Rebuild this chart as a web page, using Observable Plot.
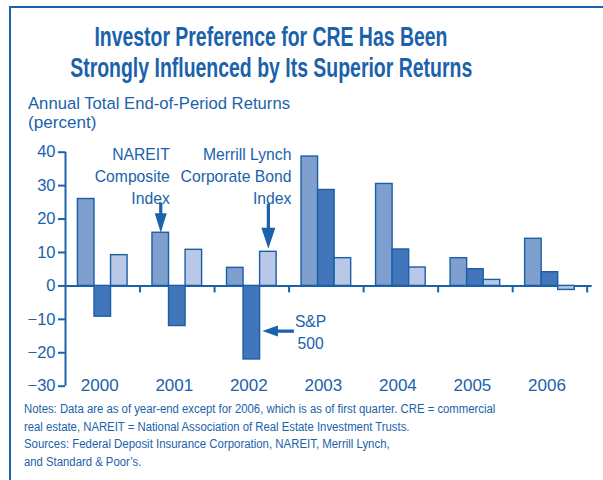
<!DOCTYPE html>
<html>
<head>
<meta charset="utf-8">
<script src="https://cdn.jsdelivr.net/npm/d3@7"></script>
<script src="https://cdn.jsdelivr.net/npm/@observablehq/plot@0.6"></script>
<style>
  html, body { margin: 0; padding: 0; background: #fff; }
  #wrap { position: relative; width: 603px; height: 480px; overflow: hidden; background: #fff; }
  .frame { position: absolute; left: 9px; top: 6px; right: -20px; bottom: -20px;
           border-top: 2.5px solid #1a62ab; border-left: 2.5px solid #1a62ab; }
  .txt { position: absolute; white-space: nowrap; line-height: 1; color: #1a62ab; }
  #chart { position: absolute; left: 0; top: 136px; }
</style>
</head>
<body>
<div id="wrap">
  <div class="frame"></div>
  <div id="chart"></div>
</div>
<script>
// ---------------- data ----------------
const years = ["2000", "2001", "2002", "2003", "2004", "2005", "2006"];
const seriesNames = ["NAREIT Composite Index", "S&P 500", "Merrill Lynch Corporate Bond Index"];
const nareit  = [26.0, 15.9, 5.4, 38.7, 30.5, 8.3, 14.1];
const snp500  = [-9.2, -12.0, -22.0, 28.7, 10.9, 5.0, 4.1];
const merrill = [9.2, 10.8, 10.2, 8.3, 5.5, 1.8, -1.2];
const yTicks = [-30, -20, -10, 0, 10, 20, 30, 40];

const titleLines = ["Investor Preference for CRE Has Been", "Strongly Influenced by Its Superior Returns"];
const yLabelLines = ["Annual Total End-of-Period Returns", "(percent)"];
const noteLines = [
  "Notes: Data are as of year-end except for 2006, which is as of first quarter. CRE = commercial",
  "real estate, NAREIT = National Association of Real Estate Investment Trusts.",
  "Sources: Federal Deposit Insurance Corporation, NAREIT, Merrill Lynch,",
  "and Standard & Poor\u2019s."
];
const annoNareit = "NAREIT\nComposite\nIndex";
const annoMerrill = "Merrill Lynch\nCorporate Bond\nIndex";
const annoSnp = "S&P\n500";
const snpArrowLevel = -13.5;

// ---------------- style ----------------
const BLUE = "#1a62ab";
const EDGE = "#1b5ea8";
const FILLS = ["#7f9fcf", "#4177ba", "#b8c8e6"];
const NARROW = "'Liberation Sans Narrow', 'Arial Narrow', 'Liberation Sans', sans-serif";
const SANS = "'Liberation Sans', Arial, sans-serif";

// ---------------- html text ----------------
const wrap = document.getElementById("wrap");
function addText(str, {x, baseline, size, family, weight = "normal", width, anchor = "start"}) {
  const el = document.createElement("div");
  el.className = "txt";
  el.textContent = str;
  el.style.fontFamily = family;
  el.style.fontSize = size + "px";
  el.style.fontWeight = weight;
  el.style.top = (baseline - 0.8465 * size) + "px";
  wrap.appendChild(el);
  const w = el.getBoundingClientRect().width;
  const s = width ? width / w : 1;
  if (anchor === "middle") {
    el.style.left = (x - w / 2) + "px";
    el.style.transformOrigin = "50% 50%";
  } else {
    el.style.left = x + "px";
    el.style.transformOrigin = "0 50%";
  }
  el.style.transform = `scaleX(${s})`;
  return el;
}
addText(titleLines[0], {x: 270.5, baseline: 46.7, size: 27.5, family: NARROW, weight: "bold", width: 353, anchor: "middle"});
addText(titleLines[1], {x: 271, baseline: 77.3, size: 27.5, family: NARROW, weight: "bold", width: 402, anchor: "middle"});
addText(yLabelLines[0], {x: 28.3, baseline: 110.3, size: 16.8, family: SANS, width: 262});
addText(yLabelLines[1], {x: 28.3, baseline: 128.8, size: 16.8, family: SANS, width: 68.4});
const noteWidths = [471.3, 385.5, 365.7, 117.3];
const noteBase = [413.3, 430.8, 448.6, 466.0];
noteLines.forEach((t, k) => addText(t, {x: 24.3, baseline: noteBase[k], size: 12, family: NARROW, width: noteWidths[k]}));

// ---------------- chart ----------------
const values = [nareit, snp500, merrill];
const rows = years.flatMap((yr, i) => seriesNames.map((s, j) => ({year: yr, i, j, series: s, value: values[j][i]})));
const groupStart = 0.167;   // offset of first bar inside each year slot (in slot units)
const barW = 0.222;         // bar width (in slot units)
const barX1 = (i, j) => i + groupStart + j * barW;
const barCenter = (i, j) => barX1(i, j) + barW / 2;

function arrowSymbol(total, headLen, headW, shaftW) {
  return {
    draw(ctx) {
      const hw = headW / 2, sw = shaftW / 2;
      ctx.moveTo(0, 0);
      ctx.lineTo(-hw, -headLen);
      ctx.lineTo(-sw, -headLen);
      ctx.lineTo(-sw, -total);
      ctx.lineTo(sw, -total);
      ctx.lineTo(sw, -headLen);
      ctx.lineTo(hw, -headLen);
      ctx.closePath();
    }
  };
}

const iN = years.indexOf("2001");
const iM = years.indexOf("2002");
const iS = years.indexOf("2002");

const chart = Plot.plot({
  width: 603,
  height: 264,
  marginLeft: 65,
  marginRight: 16.3,
  marginTop: 15.7,
  marginBottom: 14.3,
  style: {fontFamily: NARROW, fontSize: "16.5px", color: BLUE, background: "transparent", overflow: "visible"},
  x: {domain: [0, years.length], axis: null},
  y: {domain: [-30, 40], axis: null},
  color: {domain: seriesNames, range: FILLS},
  marks: [
    Plot.ruleY([0], {stroke: BLUE, strokeWidth: 2, insetRight: -5}),
    Plot.rect(rows, {
      x1: d => barX1(d.i, d.j),
      x2: d => barX1(d.i, d.j) + barW,
      y1: 0,
      y2: "value",
      fill: "series",
      stroke: EDGE,
      strokeWidth: 1.4
    }),
    Plot.ruleX(years.map((_, i) => i + 1), {y1: 0, y2: 0, insetBottom: -7, stroke: BLUE, strokeWidth: 2}),
    Plot.ruleX([0], {stroke: BLUE, strokeWidth: 2}),
    Plot.axisY(yTicks, {tickSize: 7, tickPadding: 3, strokeWidth: 2, label: null, fontSize: 16.5}),
    Plot.axisX(years.map((_, i) => i + 0.5), {
      tickFormat: d => years[Math.floor(d)],
      tickSize: 0, tickPadding: 0, dy: -7.5, dx: -3, label: null, fontSize: 17
    }),
    // annotations
    Plot.text([annoNareit], {
      x: barCenter(iN, 0), text: d => d, frameAnchor: "top", lineAnchor: "top", textAnchor: "end",
      dx: 9, dy: -8.4, lineHeight: 1.42, fontFamily: SANS, fontSize: 15.7
    }),
    Plot.text([annoMerrill], {
      x: barCenter(iM, 2), text: d => d, frameAnchor: "top", lineAnchor: "top", textAnchor: "end",
      dx: 23, dy: -8.4, lineHeight: 1.42, fontFamily: SANS, fontSize: 15.7
    }),
    Plot.dot([nareit[iN]], {
      x: barCenter(iN, 0), y: d => d, symbol: arrowSymbol(30, 19.5, 12, 3.2), fill: BLUE, stroke: "none", r: 3
    }),
    Plot.dot([merrill[iM]], {
      x: barCenter(iM, 2), y: d => d, dy: -3, symbol: arrowSymbol(45, 21, 14, 3.2), fill: BLUE, stroke: "none", r: 3
    }),
    Plot.dot([snpArrowLevel], {
      x: barX1(iS, 1) + barW, y: d => d, dx: 2.3, rotate: 90, symbol: arrowSymbol(31.5, 15.5, 11, 3.2), fill: BLUE, stroke: "none", r: 3
    }),
    Plot.text([snpArrowLevel], {
      x: barX1(iS, 1) + barW, y: d => d, text: () => annoSnp, textAnchor: "middle", lineAnchor: "middle",
      dx: 50.5, lineHeight: 1.39, fontFamily: SANS, fontSize: 15.7
    })
  ]
});
document.getElementById("chart").appendChild(chart);
</script>
</body>
</html>
